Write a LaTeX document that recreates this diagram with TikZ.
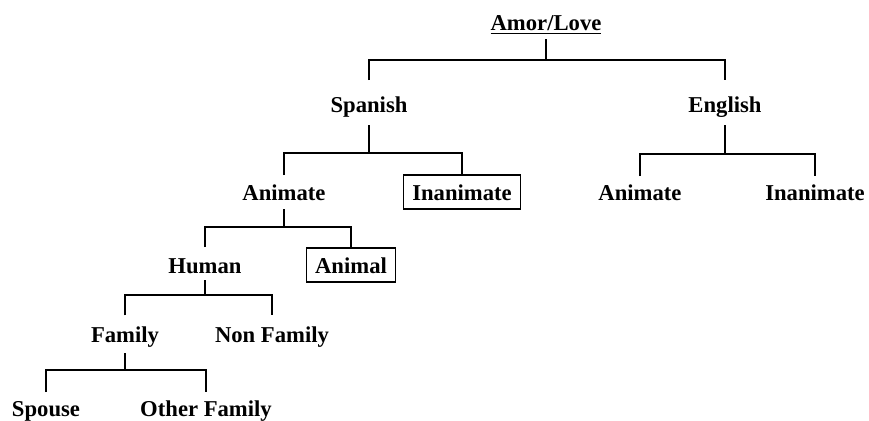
\documentclass[tikz,border=0pt]{standalone}
\usepackage{fontspec}
\setmainfont{Liberation Serif}
\begin{document}
\begin{tikzpicture}[x=0.75pt,y=-0.75pt,
  lbl/.style={font=\bfseries\fontsize{17}{20}\selectfont, inner sep=0pt, anchor=base},
  boxed/.style={lbl, draw, line width=1.3pt, inner xsep=6.5pt, inner ysep=0pt, text height=18.75pt, text depth=6.75pt},
  conn/.style={line width=1.3pt}]
\useasboundingbox (0,0) rectangle (869,421);
\node[lbl] (amor) at (546,31) {\underline{Amor/Love}};
\node[lbl] (sp) at (369,112) {Spanish};
\node[lbl] (en) at (725,112) {English};
\node[lbl] (ani) at (284,200) {Animate};
\node[boxed] (inan) at (462,200) {Inanimate};
\node[lbl] (eani) at (640,200) {Animate};
\node[lbl] (einan) at (815,200) {Inanimate};
\node[lbl] (hum) at (205,273) {Human};
\node[boxed] (animal) at (351,273) {Animal};
\node[lbl] (fam) at (125,342) {Family};
\node[lbl] (nonfam) at (272,342) {Non Family};
\node[lbl] (spouse) at (46,416) {Spouse};
\node[lbl] (other) at (206,416) {Other Family};
\coordinate (r1) at (0,60);
\coordinate (r2) at (0,153);
\coordinate (r3) at (0,154);
\coordinate (r4) at (0,227);
\coordinate (r5) at (0,295);
\coordinate (r6) at (0,370);
\draw[conn] ([yshift=-6pt]amor.base) -- (amor.base |- r1);
\draw[conn] ([yshift=24pt]sp.base) -- (sp.base |- r1) -- (en.base |- r1) -- ([yshift=24pt]en.base);
\draw[conn] ([yshift=-9.75pt]sp.base) -- (sp.base |- r2);
\draw[conn] ([yshift=18.75pt]ani.base) -- (ani.base |- r2) -- (inan.north |- r2) -- (inan.north);
\draw[conn] ([yshift=-9.75pt]en.base) -- (en.base |- r3);
\draw[conn] ([yshift=18pt]eani.base) -- (eani.base |- r3) -- (einan.base |- r3) -- ([yshift=18pt]einan.base);
\draw[conn] ([yshift=-6.75pt]ani.base) -- (ani.base |- r4);
\draw[conn] ([yshift=19.5pt]hum.base) -- (hum.base |- r4) -- (animal.north |- r4) -- (animal.north);
\draw[conn] ([yshift=-5.25pt]hum.base) -- (hum.base |- r5);
\draw[conn] ([yshift=20pt]fam.base) -- (fam.base |- r5) -- (nonfam.base |- r5) -- ([yshift=20pt]nonfam.base);
\draw[conn] ([yshift=-8.25pt]fam.base) -- (fam.base |- r6);
\draw[conn] ([yshift=18pt]spouse.base) -- (spouse.base |- r6) -- (other.base |- r6) -- ([yshift=18pt]other.base);
\end{tikzpicture}
\end{document}
